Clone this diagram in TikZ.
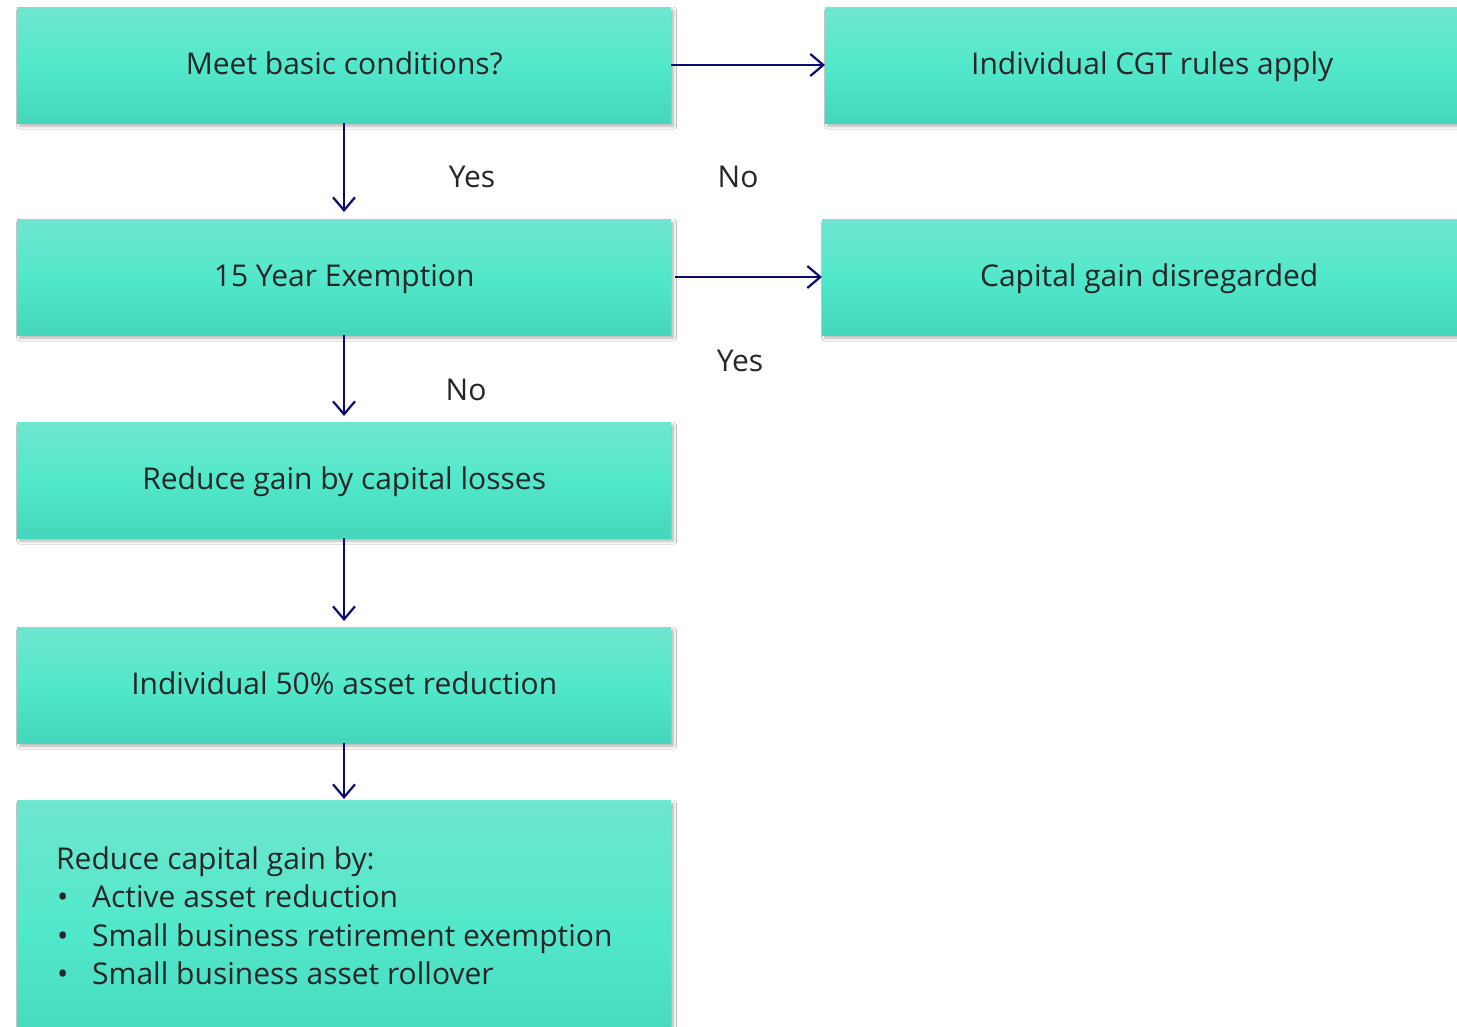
\documentclass[tikz,border=0pt]{standalone}
\usepackage{fontspec}
\setmainfont{Open Sans}
\usetikzlibrary{shadows.blur,arrows.meta}
\definecolor{boxtop}{HTML}{6FE6CF}
\definecolor{boxmid}{HTML}{52E8CB}
\definecolor{boxbot}{HTML}{45D6BB}
\definecolor{txt}{HTML}{262626}
\definecolor{arr}{HTML}{0B0B70}
\tikzset{
  flowbox/.style={rectangle, anchor=north west, minimum width=654pt, minimum height=116pt,
    inner sep=0pt, top color=boxtop, bottom color=boxbot, middle color=boxmid,
    blur shadow={shadow xshift=2.5pt, shadow yshift=-3pt, shadow blur radius=3pt, shadow opacity=30},
    font=\fontsize{30}{36}\selectfont, text=txt, text height=22pt, text depth=4pt},
  lbl/.style={font=\fontsize{30}{36}\selectfont, text=txt, inner sep=0pt},
  conn/.style={draw=arr, line width=2.2pt, -{Straight Barb[length=13pt,width=22pt,line width=2.2pt]}}
}
\begin{document}
\begin{tikzpicture}[x=1pt,y=-1pt]
\useasboundingbox (0,0) rectangle (1457,1027);
\clip (0,0) rectangle (1457,1027);
\fill[white] (0,0) rectangle (1457,1027);
\node[flowbox] (b1) at (17,7) {Meet basic conditions?};
\node[flowbox, minimum width=660pt] (r1) at (825,7) {\hspace*{-6pt}Individual CGT rules apply};
\node[flowbox] (b2) at (17,219) {15 Year Exemption};
\node[flowbox, minimum width=660pt] (r2) at (822,219) {\hspace*{-6pt}Capital gain disregarded};
\node[flowbox] (b3) at (17,422) {Reduce gain by capital losses};
\node[flowbox] (b4) at (17,627) {Individual 50\% asset reduction};
\node[flowbox, minimum height=260pt] (b5) at (17,800) {};
\node[lbl, anchor=north west, align=left, font=\fontsize{30}{38.5}\selectfont] (b5t) at (56,846)
  {Reduce capital gain by:\\
   \makebox[36pt][l]{\hspace*{1pt}\textbullet}Active asset reduction\\
   \makebox[36pt][l]{\hspace*{1pt}\textbullet}Small business retirement exemption\\
   \makebox[36pt][l]{\hspace*{1pt}\textbullet}Small business asset rollover};
\draw[conn] (b1.south -| 344,0) -- (344,212);
\draw[conn] (b2.south -| 344,0) -- (344,416);
\draw[conn] (b3.south -| 344,0) -- (344,621);
\draw[conn] (b4.south -| 344,0) -- (344,799);
\draw[conn] (b1.east |- 0,65) -- (r1.west |- 0,65);
\draw[conn] (675,277) -- (r2.west |- 0,277);
\node[lbl] (y1) at (472,177) {Yes};
\node[lbl] (n1) at (738,177) {No};
\node[lbl] (n2) at (466,390) {No};
\node[lbl] (y2) at (740,361) {Yes};
\end{tikzpicture}
\end{document}
